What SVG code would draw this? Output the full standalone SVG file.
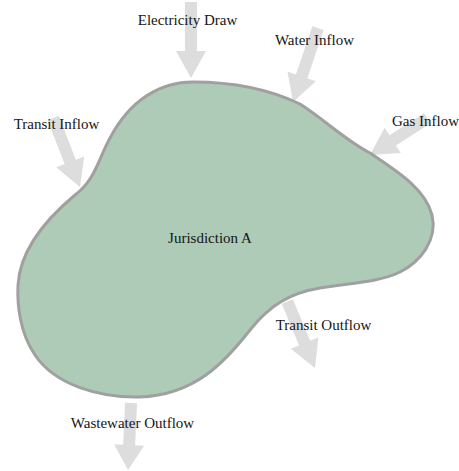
<svg xmlns="http://www.w3.org/2000/svg" width="459" height="471" viewBox="0 0 459 471">
  <style>
    .flow { fill: #dcdddc; stroke: none; }
    .region { fill: #adcbb7; stroke: #a0a0a0; stroke-width: 3; stroke-linejoin: round; }
    .lbl { font-family: "Liberation Serif", "Times New Roman", serif; font-size: 15px; fill: #151515; text-anchor: middle; }
  </style>
  <rect width="459" height="471" fill="#ffffff"/>
  <g id="connectors">
    <polygon class="flow" transform="translate(191,78) rotate(0)" points="0,0 -15,-27 -6,-27 -6,-76 6,-76 6,-27 15,-27"/>
    <polygon class="flow" transform="translate(293,102) rotate(18.7)" points="0,0 -15,-27 -6,-27 -6,-78 6,-78 6,-27 15,-27"/>
    <polygon class="flow" transform="translate(370,155) rotate(57.3)" points="0,0 -15,-27 -6,-27 -6,-68 6,-68 6,-27 15,-27"/>
    <polygon class="flow" transform="translate(80,187) rotate(-21.2)" points="0,0 -15,-27 -6,-27 -6,-74 6,-74 6,-27 15,-27"/>
    <polygon class="flow" transform="translate(315,368) rotate(-22.6)" points="0,0 -15,-27 -6,-27 -6,-72 6,-72 6,-27 15,-27"/>
    <polygon class="flow" transform="translate(128,470) rotate(2.6)" points="0,0 -15,-25 -6,-25 -6,-67 6,-67 6,-25 15,-25"/>
  </g>
  <g id="jurisdiction-a">
    <path class="region" d="M 193,82 C 240,82 275,92 300,104 C 325,120 345,140 370,153 C 395,170 425,188 432,215 C 438,240 420,262 400,272 C 380,282 350,283 320,288 C 290,293 270,305 250,330 C 225,362 195,395 140,397 C 100,398 55,385 35,355 C 20,333 17,305 18,285 C 20,250 45,220 75,195 C 95,180 98,160 110,138 C 130,100 160,82 193,82 Z"/>
    <text class="lbl" x="210" y="243">Jurisdiction A</text>
  </g>
  <g id="electricity-draw"><text class="lbl" x="187.5" y="25">Electricity Draw</text></g>
  <g id="water-inflow"><text class="lbl" x="314.5" y="45">Water Inflow</text></g>
  <g id="gas-inflow"><text class="lbl" x="425.5" y="126">Gas Inflow</text></g>
  <g id="transit-inflow"><text class="lbl" x="56.5" y="129">Transit Inflow</text></g>
  <g id="transit-outflow"><text class="lbl" x="323.5" y="330">Transit Outflow</text></g>
  <g id="wastewater-outflow"><text class="lbl" x="132.5" y="428">Wastewater Outflow</text></g>
</svg>
